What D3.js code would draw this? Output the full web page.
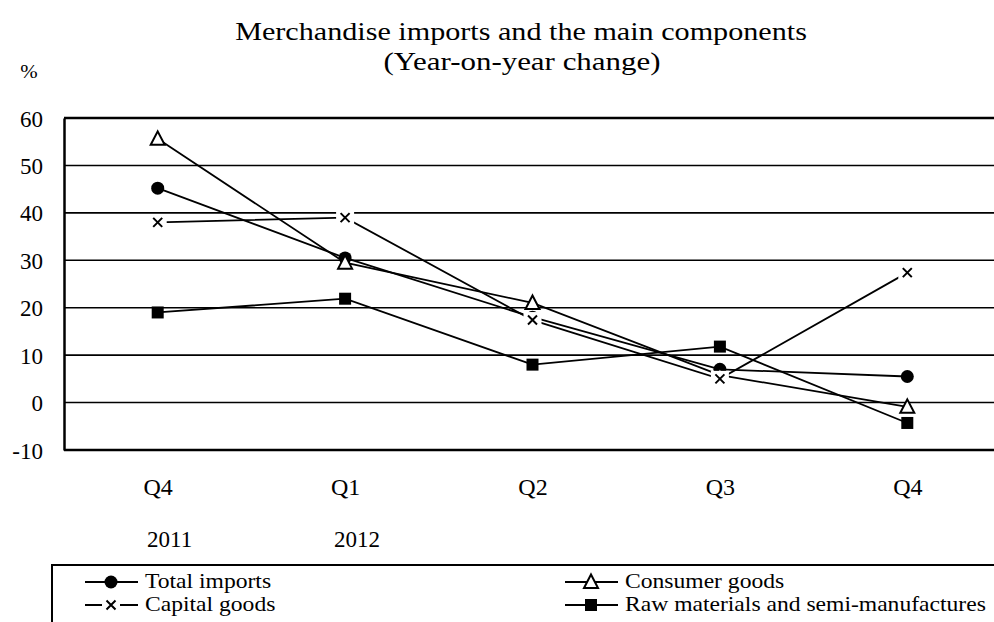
<!DOCTYPE html>
<html>
<head>
<meta charset="utf-8">
<script src="https://cdn.jsdelivr.net/npm/d3@7"></script>
<style>
  body { margin: 0; background: #fff; }
  svg { display: block; font-family: "Liberation Serif", "Times New Roman", serif; }
</style>
</head>
<body>
<div id="viz"></div>
<script>
var quarters = ["2011Q4", "2012Q1", "2012Q2", "2012Q3", "2012Q4"];
var quarterLabels = ["Q4", "Q1", "Q2", "Q3", "Q4"];
var yearLabels = ["2011", "2012", "", "", ""];
var yTicks = [-10, 0, 10, 20, 30, 40, 50, 60];

var totalImports = [45.2, 30.5, 18, 7, 5.5];
var consumerGoods = [55.6, 29.5, 21, 5.8, -0.9];
var capitalGoods = [38, 39, 17.4, 5, 27.4];
var rawMaterials = [19, 21.9, 8, 11.8, -4.3];

var seriesNames = ["Total imports", "Consumer goods", "Capital goods", "Raw materials and semi-manufactures"];
var seriesValues = [totalImports, consumerGoods, capitalGoods, rawMaterials];
var seriesMarks = ["circle", "triangle", "cross", "square"];

var fx = 994;
var fy = 622;

var svg = d3.select("#viz")
    .append("svg")
    .attr("width", fx)
    .attr("height", fy);

var x = d3.scalePoint()
    .domain(d3.range(quarters.length))
    .range([64, 1001])
    .padding(0.5);

var y = d3.scaleLinear()
    .domain([-10, 60])
    .range([450, 118]);

// text stretched sideways like the reference
var wideText = function(g, tx, ty, sx, size, str, anchor) {
    return g.append("text")
        .attr("transform", "translate(" + tx + "," + ty + ")scale(" + sx + ",1)")
        .attr("text-anchor", anchor || "start")
        .style("font-size", size + "px")
        .text(str);
};

// title
wideText(svg, 521, 40, 1.16, 26, "Merchandise imports and the main components", "middle");
wideText(svg, 522, 70, 1.19, 26, "(Year-on-year change)", "middle");
wideText(svg, 29, 78, 1.1, 19, "%", "middle");

// grid lines
svg.append("g")
    .selectAll("line")
    .data(yTicks)
    .enter().append("line")
    .attr("x1", 64).attr("x2", fx)
    .attr("y1", function(d) { return y(d); })
    .attr("y2", function(d) { return y(d); })
    .attr("stroke", "#000")
    .attr("stroke-width", function(d) { return (d == 60 || d == -10) ? 2.5 : 1.6; });

// y axis
var yAxis = d3.axisLeft(y).tickValues(yTicks).tickSize(0).tickPadding(21)
    .tickFormat(function(d) { return String(d); });
var ya = svg.append("g").attr("transform", "translate(64,0)").call(yAxis);
ya.select(".domain").attr("stroke", "#000").attr("stroke-width", 2.5);
ya.selectAll("text")
    .style("font-size", "23px")
    .style("font-family", "Liberation Serif")
    .attr("dy", "0.35em");

// x labels
var xAxis = d3.axisBottom(x).tickSize(0).tickPadding(28)
    .tickFormat(function(i) { return quarterLabels[i]; });
var xa = svg.append("g").attr("transform", "translate(0,450)").call(xAxis);
xa.select(".domain").remove();
xa.selectAll("text")
    .style("font-size", "24px")
    .style("font-family", "Liberation Serif");

svg.append("g")
    .selectAll("text")
    .data(yearLabels)
    .enter().append("text")
    .attr("x", function(d, i) { return x(i) + 12; })
    .attr("y", 547)
    .attr("text-anchor", "middle")
    .style("font-size", "23px")
    .text(function(d) { return d; });

var drawMark = function(g, type, cx, cy) {
    if (type == "circle") {
        g.append("circle").attr("cx", cx).attr("cy", cy).attr("r", 6.5).attr("fill", "#000");
    } else if (type == "triangle") {
        g.append("path")
            .attr("d", "M" + cx + "," + (cy - 7.5) + "L" + (cx + 7) + "," + (cy + 6) + "L" + (cx - 7) + "," + (cy + 6) + "Z")
            .attr("fill", "#fff").attr("stroke", "#000").attr("stroke-width", 2);
    } else if (type == "square") {
        g.append("rect").attr("x", cx - 6).attr("y", cy - 6).attr("width", 12).attr("height", 12).attr("fill", "#000");
    } else {
        g.append("rect").attr("x", cx - 9).attr("y", cy - 8).attr("width", 18).attr("height", 16).attr("fill", "#fff");
        g.append("path")
            .attr("d", "M" + (cx - 4.5) + "," + (cy - 4.5) + "L" + (cx + 4.5) + "," + (cy + 4.5) +
                       "M" + (cx + 4.5) + "," + (cy - 4.5) + "L" + (cx - 4.5) + "," + (cy + 4.5))
            .attr("stroke", "#000").attr("stroke-width", 2);
    }
};

var line = d3.line()
    .x(function(d, i) { return x(i); })
    .y(function(d) { return y(d); });

seriesValues.forEach(function(vals, k) {
    var g = svg.append("g");
    g.append("path")
        .attr("d", line(vals))
        .attr("fill", "none")
        .attr("stroke", "#000")
        .attr("stroke-width", 1.8);
    vals.forEach(function(v, i) {
        drawMark(g, seriesMarks[k], x(i), y(v));
    });
});

// legend
svg.append("path")
    .attr("d", "M" + fx + ",565H52V" + fy)
    .attr("fill", "none")
    .attr("stroke", "#000")
    .attr("stroke-width", 2);

var legendPos = [[85, 582], [565, 582], [85, 605], [565, 605]];
legendPos.forEach(function(p, k) {
    var g = svg.append("g");
    g.append("line")
        .attr("x1", p[0]).attr("x2", p[0] + 53)
        .attr("y1", p[1]).attr("y2", p[1])
        .attr("stroke", "#000").attr("stroke-width", 1.8);
    drawMark(g, seriesMarks[k], p[0] + 26, p[1]);
    wideText(g, p[0] + 60, p[1] + 6, 1.18, 20, seriesNames[k]);
});
</script>
</body>
</html>
